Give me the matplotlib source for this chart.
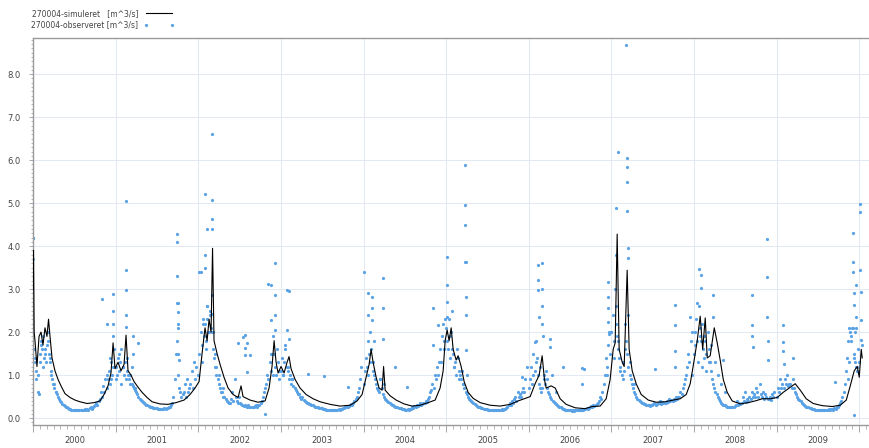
import numpy as np
import pandas as pd
import matplotlib
matplotlib.use("Agg")
import matplotlib.pyplot as plt
import matplotlib.dates as mdates
from matplotlib.ticker import MultipleLocator, NullFormatter, FormatStrFormatter

years = list(range(2000, 2010))
year_labels = [str(y) for y in years]
sim_label = "270004-simuleret   [m^3/s]"
obs_label = "270004-observeret [m^3/s]"

# simulated discharge, breakpoints (decimal year, m3/s)
sim_t = [2000.000, 2000.006, 2000.014, 2000.024, 2000.048, 2000.073, 2000.097, 2000.121, 2000.145, 2000.169,
         2000.188, 2000.206, 2000.230, 2000.266, 2000.303, 2000.339, 2000.387, 2000.448, 2000.508, 2000.569,
         2000.654, 2000.738, 2000.811, 2000.860, 2000.908, 2000.944, 2000.969, 2000.993, 2001.029, 2001.065,
         2001.102, 2001.126, 2001.150, 2001.186, 2001.223, 2001.271, 2001.320, 2001.380, 2001.441, 2001.538,
         2001.634, 2001.731, 2001.828, 2001.901, 2001.961, 2002.010, 2002.046, 2002.082, 2002.107, 2002.131,
         2002.155, 2002.173, 2002.191, 2002.228, 2002.264, 2002.312, 2002.361, 2002.421, 2002.482, 2002.518,
         2002.542, 2002.627, 2002.724, 2002.809, 2002.857, 2002.893, 2002.918, 2002.942, 2002.966, 2003.002,
         2003.039, 2003.075, 2003.099, 2003.123, 2003.172, 2003.232, 2003.305, 2003.390, 2003.475, 2003.596,
         2003.717, 2003.838, 2003.923, 2003.983, 2004.031, 2004.068, 2004.092, 2004.116, 2004.153, 2004.189,
         2004.225, 2004.243, 2004.262, 2004.322, 2004.395, 2004.492, 2004.588, 2004.685, 2004.782, 2004.867,
         2004.927, 2004.964, 2004.988, 2005.012, 2005.036, 2005.061, 2005.085, 2005.121, 2005.145, 2005.182,
         2005.218, 2005.266, 2005.327, 2005.412, 2005.533, 2005.654, 2005.775, 2005.872, 2005.944, 2006.017,
         2006.077, 2006.126, 2006.162, 2006.190, 2006.211, 2006.271, 2006.320, 2006.380, 2006.453, 2006.562,
         2006.683, 2006.768, 2006.864, 2006.937, 2006.985, 2007.022, 2007.046, 2007.070, 2007.094, 2007.131,
         2007.155, 2007.191, 2007.215, 2007.252, 2007.300, 2007.361, 2007.446, 2007.542, 2007.651, 2007.748,
         2007.833, 2007.906, 2007.954, 2008.002, 2008.039, 2008.075, 2008.105, 2008.136, 2008.160, 2008.196,
         2008.245, 2008.281, 2008.317, 2008.354, 2008.402, 2008.462, 2008.559, 2008.656, 2008.741, 2008.826,
         2008.923, 2009.007, 2009.080, 2009.153, 2009.225, 2009.286, 2009.358, 2009.443, 2009.552, 2009.673,
         2009.770, 2009.843, 2009.891, 2009.939, 2009.976, 2010.000, 2010.024, 2010.036]
sim_q = [3.0, 3.9, 2.0, 1.8, 1.2, 1.9, 2.0, 1.7, 2.1, 1.9,
         2.3, 1.9, 1.4, 1.1, 0.9, 0.75, 0.57, 0.48, 0.42, 0.38,
         0.34, 0.36, 0.40, 0.55, 0.75, 1.05, 1.75, 1.15, 1.3, 1.1,
         1.25, 1.93, 1.1, 1.0, 0.85, 0.72, 0.6, 0.48, 0.38, 0.33,
         0.32, 0.36, 0.42, 0.55, 0.7, 0.85, 1.5, 2.1, 1.8, 2.3,
         2.0, 3.95, 1.8, 1.5, 1.25, 0.95, 0.7, 0.55, 0.48, 0.75,
         0.5, 0.42, 0.37, 0.4, 0.7, 1.2, 1.8, 1.3, 1.05, 1.2,
         1.05, 1.3, 1.43, 1.15, 0.9, 0.7, 0.55, 0.45, 0.38, 0.32,
         0.28, 0.3, 0.4, 0.55, 0.95, 1.25, 1.6, 1.3, 0.95, 0.7,
         0.65, 1.2, 0.65, 0.52, 0.42, 0.33, 0.28, 0.3, 0.36, 0.42,
         0.7, 1.1, 1.8, 2.05, 1.8, 2.1, 1.6, 1.35, 1.45, 1.2,
         0.85, 0.6, 0.46, 0.36, 0.3, 0.28, 0.32, 0.4, 0.45, 0.5,
         0.8, 1.0, 1.45, 0.9, 0.7, 0.75, 0.7, 0.45, 0.32, 0.24,
         0.22, 0.27, 0.28, 0.45, 0.9, 1.6, 1.75, 4.28, 1.6, 1.3,
         1.2, 3.44, 1.6, 1.1, 0.8, 0.55, 0.42, 0.37, 0.38, 0.42,
         0.45, 0.55, 0.8, 1.35, 1.8, 2.37, 1.6, 2.33, 1.4, 1.45,
         2.1, 1.75, 1.35, 0.9, 0.6, 0.4, 0.33, 0.36, 0.4, 0.45,
         0.45, 0.48, 0.6, 0.7, 0.8, 0.65, 0.45, 0.34, 0.29, 0.27,
         0.3, 0.42, 0.75, 1.1, 1.2, 0.95, 1.6, 1.4]

# observed discharge, one reading every 5 days from 1 January (6 per month)
obs_2000 = [4.2, 1.6, 1.4, 1.1, 0.6, 0.55,  1.5, 1.8, 1.6, 1.9, 1.4, 1.6,  1.7, 2.0, 1.5, 1.3, 1.0, 0.9,
            0.8, 0.7, 0.6, 0.55, 0.5, 0.45,  0.4, 0.38, 0.33, 0.3, 0.28, 0.26,  0.25, 0.23, 0.22, 0.21, 0.2, 0.2,
            0.19, 0.19, 0.18, 0.19, 0.18, 0.19,  0.19, 0.2, 0.19, 0.2, 0.21, 0.2,  0.22, 0.2, 0.23, 0.25, 0.22, 0.25,
            0.28, 0.3, 0.35, 0.3, 0.4, 0.45,  0.6, 0.5, 0.75, 0.6, 0.9, 0.7,  0.9, 1.1, 0.8, 1.3, 1.0, 1.2]
obs_2001 = [1.2, 1.0, 1.4, 1.1, 1.3, 1.6,  1.2, 1.0, 1.3, 0.9, 1.1, 1.0,  0.9, 1.0, 0.8, 0.75, 0.7, 0.65,
            0.6, 0.55, 0.5, 0.45, 0.42, 0.4,  0.38, 0.35, 0.33, 0.3, 0.3, 0.28,  0.27, 0.26, 0.25, 0.24, 0.24, 0.23,
            0.23, 0.22, 0.22, 0.22, 0.21, 0.22,  0.22, 0.23, 0.22, 0.24, 0.23, 0.25,  0.26, 0.3, 0.35, 0.5, 0.9, 1.5,
            1.8, 1.0, 0.7, 0.6, 0.5, 0.55,  0.6, 0.8, 0.5, 0.9, 0.6, 0.7,  0.8, 1.1, 0.7, 1.3, 0.9, 1.2]
obs_2002 = [1.0, 1.5, 2.0, 1.7, 2.3, 1.9,  2.2, 1.8, 2.6, 2.0, 2.4, 2.1,  2.0, 1.6, 1.4, 1.2, 1.0, 0.9,
            0.8, 0.7, 0.6, 0.6, 0.5, 0.5,  0.45, 0.4, 0.38, 0.36, 0.35, 0.45,  0.6, 0.4, 0.9, 0.5, 0.4, 0.35,
            0.5, 0.35, 0.32, 0.3, 0.28, 0.3,  0.28, 0.27, 0.3, 0.26, 0.25, 0.27,  0.25, 0.26, 0.28, 0.3, 0.27, 0.3,
            0.3, 0.35, 0.4, 0.5, 0.6, 0.7,  0.8, 1.0, 0.9, 1.3, 1.1, 1.5,  1.9, 1.5, 1.2, 1.0, 1.3, 1.1]
obs_2003 = [1.1, 1.4, 1.0, 1.3, 1.6, 1.2,  1.1, 0.9, 1.0, 0.8, 0.9, 0.75,  0.7, 0.65, 0.6, 0.55, 0.55, 0.5,
            0.45, 0.5, 0.42, 0.4, 0.38, 0.36,  0.35, 0.33, 0.32, 0.3, 0.3, 0.28,  0.27, 0.26, 0.25, 0.25, 0.24, 0.24,
            0.23, 0.22, 0.22, 0.21, 0.2, 0.2,  0.2, 0.2, 0.19, 0.2, 0.19, 0.2,  0.19, 0.2, 0.2, 0.21, 0.2, 0.22,
            0.22, 0.24, 0.23, 0.25, 0.26, 0.25,  0.28, 0.3, 0.32, 0.3, 0.35, 0.4,  0.45, 0.5, 0.6, 0.7, 0.9, 1.2]
obs_2004 = [0.8, 1.1, 1.4, 1.2, 1.8, 1.5,  2.0, 1.6, 1.3, 1.0, 0.9, 0.8,  0.7, 0.65, 0.6, 0.9, 0.7, 0.55,
            0.5, 0.45, 0.42, 0.4, 0.38, 0.35,  0.33, 0.3, 0.3, 0.28, 0.27, 0.26,  0.25, 0.24, 0.24, 0.23, 0.22, 0.22,
            0.21, 0.2, 0.2, 0.21, 0.2, 0.22,  0.22, 0.25, 0.23, 0.28, 0.25, 0.3,  0.28, 0.3, 0.35, 0.3, 0.32, 0.35,
            0.35, 0.4, 0.38, 0.45, 0.5, 0.6,  0.65, 0.8, 0.7, 1.0, 0.9, 1.2,  1.0, 1.3, 1.6, 1.9, 2.2, 1.8]
obs_2005 = [2.1, 1.8, 2.3, 1.9, 2.0, 1.6,  1.5, 1.2, 1.3, 1.0, 1.4, 1.1,  1.0, 0.9, 1.1, 0.8, 0.7, 0.6,
            0.55, 0.5, 0.45, 0.42, 0.4, 0.37,  0.35, 0.33, 0.3, 0.28, 0.27, 0.26,  0.25, 0.24, 0.23, 0.22, 0.22, 0.21,
            0.21, 0.2, 0.2, 0.2, 0.19, 0.2,  0.19, 0.19, 0.2, 0.19, 0.2, 0.2,  0.2, 0.21, 0.2, 0.22, 0.21, 0.23,
            0.25, 0.3, 0.35, 0.3, 0.4, 0.35,  0.45, 0.5, 0.4, 0.6, 0.5, 0.55,  0.5, 0.6, 0.7, 0.6, 0.9, 1.2]
obs_2006 = [0.7, 0.9, 1.2, 0.8, 1.5, 1.1,  1.8, 1.4, 1.0, 0.8, 0.7, 0.6,  0.7, 0.9, 0.8, 1.1, 0.7, 0.6,
            0.55, 0.5, 0.45, 0.4, 0.38, 0.35,  0.32, 0.3, 0.28, 0.26, 0.25, 0.23,  0.22, 0.21, 0.2, 0.2, 0.19, 0.19,
            0.18, 0.18, 0.17, 0.18, 0.17, 0.18,  0.18, 0.19, 0.18, 0.2, 0.19, 0.2,  0.2, 0.22, 0.21, 0.23, 0.22, 0.24,
            0.25, 0.28, 0.26, 0.3, 0.28, 0.3,  0.32, 0.35, 0.4, 0.5, 0.45, 0.6,  0.8, 1.0, 1.4, 1.2, 1.7, 2.0]
obs_2007 = [2.0, 2.4, 1.8, 3.0, 2.2, 1.9,  1.6, 1.4, 1.2, 1.0, 1.3, 1.1,  2.2, 1.8, 1.5, 1.2, 1.0, 0.9,
            0.8, 0.7, 0.6, 0.55, 0.5, 0.45,  0.42, 0.4, 0.38, 0.36, 0.35, 0.33,  0.32, 0.31, 0.3, 0.3, 0.29, 0.3,
            0.3, 0.32, 0.35, 0.3, 0.33, 0.35,  0.35, 0.4, 0.33, 0.38, 0.35, 0.36,  0.35, 0.4, 0.38, 0.45, 0.4, 0.42,
            0.4, 0.45, 0.42, 0.5, 0.45, 0.5,  0.5, 0.6, 0.55, 0.7, 0.8, 0.9,  1.0, 1.2, 1.5, 1.3, 1.8, 2.0]
obs_2008 = [1.5, 2.0, 2.3, 1.8, 2.6, 2.1,  1.8, 2.2, 1.6, 1.4, 1.8, 1.5,  2.0, 1.6, 1.3, 1.1, 0.9, 0.8,
            0.7, 0.6, 0.55, 0.5, 0.45, 0.4,  0.35, 0.33, 0.3, 0.3, 0.28, 0.27,  0.27, 0.26, 0.25, 0.26, 0.25, 0.27,
            0.28, 0.3, 0.4, 0.3, 0.35, 0.32,  0.35, 0.5, 0.4, 0.6, 0.38, 0.45,  0.4, 0.5, 0.45, 0.6, 0.5, 0.55,
            0.5, 0.7, 0.6, 0.5, 0.8, 0.55,  0.5, 0.6, 0.45, 0.55, 0.5, 0.45,  0.45, 0.5, 0.42, 0.55, 0.5, 0.6]
obs_2009 = [0.5, 0.7, 0.6, 0.9, 0.7, 0.8,  0.7, 0.9, 0.8, 1.0, 0.75, 0.8,  0.8, 0.7, 0.9, 0.7, 0.6, 0.55,
            0.5, 0.45, 0.42, 0.4, 0.35, 0.33,  0.3, 0.28, 0.27, 0.26, 0.25, 0.24,  0.23, 0.22, 0.22, 0.21, 0.2, 0.2,
            0.2, 0.19, 0.2, 0.19, 0.2, 0.19,  0.19, 0.2, 0.2, 0.19, 0.21, 0.2,  0.21, 0.22, 0.2, 0.23, 0.22, 0.25,
            0.27, 0.3, 0.35, 0.4, 0.5, 0.6,  0.8, 1.1, 1.4, 1.8, 2.1, 2.0,  1.8, 2.1, 1.5, 1.3, 1.2, 1.1]
obs_years = [obs_2000, obs_2001, obs_2002, obs_2003, obs_2004,
             obs_2005, obs_2006, obs_2007, obs_2008, obs_2009]

# observed readings inside the winter clouds (decimal year, m3/s)
obs_w_t = [2000.03, 2000.04, 2000.06, 2000.08, 2000.10, 2000.12, 2000.14, 2000.16, 2000.18, 2000.20, 2000.22,
           2000.25, 2000.28, 2000.90, 2000.93, 2000.95, 2000.98, 2001.01, 2001.04, 2001.07, 2001.09, 2001.14,
           2001.17, 2001.20, 2001.24, 2002.04, 2002.06, 2002.09, 2002.12, 2002.14, 2002.18, 2002.20, 2002.22,
           2002.25, 2002.30, 2002.88, 2002.90, 2002.95, 2002.98, 2003.02, 2003.05, 2003.09, 2003.13,
           2004.05, 2004.08, 2004.11, 2004.13, 2004.16, 2004.20, 2004.25, 2004.94, 2004.97, 2004.99, 2005.02,
           2005.05, 2005.07, 2005.10, 2005.13, 2005.16, 2005.20, 2005.25, 2006.05, 2006.09, 2006.14, 2006.18,
           2006.22, 2006.28, 2006.33, 2006.95, 2006.98, 2007.00, 2007.03, 2007.05, 2007.08, 2007.11, 2007.14,
           2007.17, 2007.20, 2007.23, 2007.27, 2007.98, 2008.01, 2008.05, 2008.07, 2008.10, 2008.12, 2008.15,
           2008.18, 2008.21, 2008.26, 2008.29, 2008.33, 2008.37, 2009.86, 2009.88, 2009.90, 2009.91, 2009.94,
           2009.95, 2009.97, 2009.99, 2010.00, 2010.03]
obs_w_q = [1.3, 0.9, 1.0, 1.3, 1.7, 1.2, 1.5, 1.3, 1.8, 1.4, 1.1,
           0.8, 0.6, 1.0, 1.4, 0.9, 1.6, 0.9, 1.5, 0.8, 1.2, 1.4,
           0.8, 1.2, 0.7, 1.3, 2.2, 1.6, 2.0, 2.5, 2.0, 1.5, 1.2,
           1.0, 0.7, 1.5, 1.0, 1.6, 0.9, 1.0, 1.7, 1.2, 0.9,
           1.0, 1.3, 1.1, 1.8, 0.7, 0.9, 0.8, 1.3, 1.6, 2.3, 1.6,
           1.4, 2.5, 1.2, 1.6, 0.9, 0.8, 1.0, 1.0, 1.3, 1.2, 1.0,
           0.9, 1.0, 0.6, 1.0, 1.5, 2.0, 1.4, 2.6, 1.8, 1.1, 0.9,
           1.6, 2.4, 1.3, 0.8, 1.0, 1.7, 1.3, 1.9, 1.2, 1.9, 1.1,
           1.3, 1.7, 1.3, 1.0, 0.8, 0.6, 0.9, 1.3, 1.9, 2.1, 1.4,
           2.0, 1.2, 1.6, 1.3, 1.7]

# observed readings off the main band (decimal year, m3/s)
obs_x_t = [2000.004, 2000.006, 2000.835, 2000.896, 2000.969, 2000.969, 2000.971, 2000.973,
           2001.124, 2001.126, 2001.128, 2001.126, 2001.130, 2001.211, 2001.213, 2001.271,
           2001.741, 2001.743, 2001.745, 2001.747, 2001.749, 2001.751, 2001.755, 2001.757, 2001.760, 2001.762,
           2002.010, 2002.034, 2002.080, 2002.082, 2002.084, 2002.105, 2002.107, 2002.109,
           2002.165, 2002.167, 2002.169, 2002.171, 2002.163, 2002.161,
           2002.482, 2002.542, 2002.565, 2002.567, 2002.569, 2002.591, 2002.593, 2002.627, 2002.809,
           2002.845, 2002.879, 2002.881, 2002.928, 2002.930, 2002.932, 2002.934, 2003.075, 2003.077, 2003.099, 2003.101,
           2003.329, 2003.523, 2003.814, 2004.007, 2004.054, 2004.056, 2004.102, 2004.104, 2004.106,
           2004.235, 2004.237, 2004.239, 2004.383, 2004.528, 2004.841, 2004.843, 2004.903,
           2005.010, 2005.012, 2005.014, 2005.016, 2005.228, 2005.230, 2005.232, 2005.234,
           2005.240, 2005.242, 2005.244, 2005.246, 2005.920, 2006.077, 2006.112, 2006.114, 2006.116, 2006.118,
           2006.160, 2006.162, 2006.164, 2006.166, 2006.168, 2006.259, 2006.261, 2006.416, 2006.646, 2006.648, 2006.671,
           2006.959, 2006.961, 2006.963, 2006.965, 2006.967, 2007.058, 2007.060, 2007.082,
           2007.179, 2007.189, 2007.191, 2007.193, 2007.195, 2007.197, 2007.199, 2007.530,
           2007.770, 2007.772, 2007.774, 2007.776, 2007.954, 2008.039, 2008.063, 2008.085, 2008.087,
           2008.230, 2008.232, 2008.354, 2008.703, 2008.705, 2008.707, 2008.709,
           2008.884, 2008.886, 2008.888, 2008.890, 2008.892, 2009.078, 2009.080, 2009.082, 2009.084,
           2009.201, 2009.709, 2009.925, 2009.927, 2009.929, 2009.931, 2009.933, 2009.935,
           2009.962, 2009.964, 2009.966, 2010.010, 2010.012, 2010.014, 2010.016, 2010.018, 2010.020]
obs_x_q = [4.2, 3.7, 2.76, 2.2, 2.88, 2.5, 2.2, 1.9,
           5.05, 3.44, 2.98, 2.4, 2.13, 1.9, 1.5, 1.74,
           4.29, 4.1, 3.3, 2.67, 2.2, 2.1, 2.67, 2.47, 1.5, 1.35,
           3.4, 3.39, 5.21, 3.79, 3.48, 4.39, 2.6, 2.3,
           6.6, 5.08, 4.62, 4.39, 2.86, 2.43,
           1.74, 1.89, 1.93, 1.62, 1.46, 1.74, 1.08, 1.47, 0.1,
           3.13, 3.1, 2.28, 3.6, 2.86, 2.4, 2.05, 2.98, 2.05, 2.95, 1.85,
           1.02, 0.98, 0.72, 3.39, 2.9, 2.4, 2.82, 2.55, 2.28,
           3.25, 2.55, 1.83, 1.18, 0.72, 2.55, 1.7, 2.16,
           3.75, 3.09, 2.7, 2.35, 5.88, 4.95, 4.5, 3.63,
           3.64, 2.82, 2.4, 1.58, 0.96, 1.78, 3.56, 3.21, 2.98, 2.36,
           3.6, 3.0, 2.6, 2.2, 1.9, 1.85, 1.65, 1.2, 1.16, 0.8, 1.15,
           3.17, 2.82, 2.55, 2.24, 1.96, 4.89, 3.8, 6.19,
           8.67, 6.05, 5.85, 5.5, 4.82, 3.95, 3.72, 1.15,
           2.63, 2.17, 1.55, 1.2, 2.36, 2.67, 3.46, 3.32, 3.02,
           2.86, 2.36, 1.35, 2.86, 2.17, 1.9, 1.66,
           4.16, 3.29, 2.36, 1.8, 1.35, 2.17, 1.78, 1.55, 1.27,
           1.39, 0.84, 4.31, 3.64, 3.4, 2.9, 2.63, 0.07,
           3.1, 2.36, 2.1, 4.99, 4.8, 3.44, 2.94, 2.29, 1.82]


def dec_to_date(t):
    t = np.asarray(t, dtype=float)
    return pd.Timestamp("2000-01-01") + pd.to_timedelta((t - 2000.0) * 365.25, unit="D")


sim_dates = dec_to_date(sim_t)
obs_dates = []
obs_vals = []
for y, vals in zip(years, obs_years):
    obs_dates.extend(pd.date_range(f"{y}-01-01", periods=len(vals), freq="5D"))
    obs_vals.extend(vals)

fig = plt.figure(figsize=(8.7, 4.48), dpi=100)
ax = fig.add_axes([33 / 870, 1 - 425 / 448, 1 - 33 / 870, (425 - 38) / 448])

blue = "#5aa2e6"
mk = dict(ls="none", marker="o", ms=2.3, mew=0, color=blue, zorder=2)
obs_h, = ax.plot(obs_dates, obs_vals, label=obs_label, **mk)
ax.plot(dec_to_date(obs_w_t), obs_w_q, **mk)
ax.plot(dec_to_date(obs_x_t), obs_x_q, **mk)
sim_h, = ax.plot(sim_dates, sim_q, color="black", lw=0.8, label=sim_label, zorder=3)

ax.set_xlim(pd.Timestamp("2000-01-01"), pd.Timestamp("2010-02-17"))
ax.set_ylim(-0.16, 8.84)

ax.xaxis.set_major_locator(mdates.YearLocator())
ax.xaxis.set_minor_locator(mdates.MonthLocator())
ax.xaxis.set_major_formatter(NullFormatter())
ax.yaxis.set_major_locator(MultipleLocator(1.0))
ax.yaxis.set_minor_locator(MultipleLocator(0.1))
ax.yaxis.set_major_formatter(FormatStrFormatter("%.1f"))

ax.grid(True, which="major", color="#e2e9f2", lw=0.7, zorder=0)
ax.set_axisbelow(True)

for side in ["left", "bottom", "top"]:
    ax.spines[side].set_color("#9a9a9a")
    ax.spines[side].set_linewidth(1.0)
ax.spines["right"].set_visible(False)

ax.tick_params(axis="y", which="major", length=3, width=0.6, color="#9a9a9a", labelsize=6, labelcolor="#444444", pad=6)
ax.tick_params(axis="y", which="minor", length=1.5, width=0.5, color="#9a9a9a")
ax.tick_params(axis="x", which="major", length=5, width=0.6, color="#9a9a9a")
ax.tick_params(axis="x", which="minor", length=3, width=0.5, color="#9a9a9a")

for y, lab in zip(years, year_labels):
    ax.text(pd.Timestamp(f"{y}-07-02"), -0.04, lab, transform=ax.get_xaxis_transform(),
            ha="center", va="center", fontsize=6, color="#444444")

fig.legend(handles=[sim_h, obs_h], loc="upper left", bbox_to_anchor=(28 / 870, 1 - 6 / 448),
           frameon=False, markerfirst=False, fontsize=5.5, handlelength=4, numpoints=2,
           labelspacing=0.3, handletextpad=0.8, borderaxespad=0, labelcolor="#444444")

fig.savefig("out.png", dpi=100)
